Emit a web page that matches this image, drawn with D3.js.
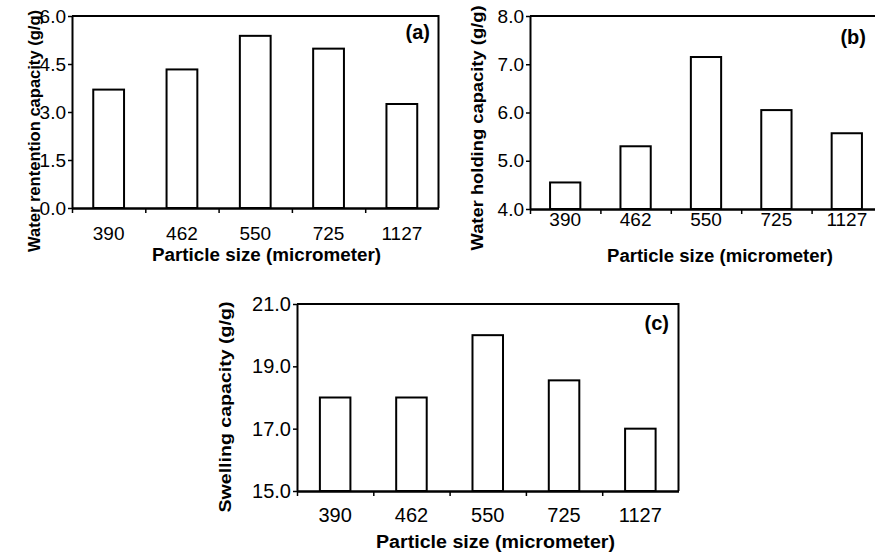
<!DOCTYPE html>
<html>
<head>
<meta charset="utf-8">
<script src="https://cdn.jsdelivr.net/npm/d3@7"></script>
<style>
  body { margin: 0; background: #fff; }
  svg { display: block; }
</style>
</head>
<body>
<div id="chart-container"></div>
<script>
// data
const particleSizes = ["390", "462", "550", "725", "1127"];
const retentionValues = [3.7, 4.33, 5.38, 4.98, 3.25];
const holdingValues = [4.55, 5.3, 7.15, 6.05, 5.57];
const swellingValues = [18.0, 18.0, 20.0, 18.55, 17.0];
const retentionTicks = [0, 1.5, 3.0, 4.5, 6.0];
const holdingTicks = [4, 5, 6, 7, 8];
const swellingTicks = [15, 17, 19, 21];

const width = 875;
const height = 554;
const font = "'Liberation Sans', Arial, sans-serif";

const svg = d3
  .select("#chart-container")
  .append("svg")
  .attr("width", width)
  .attr("height", height);

function drawPanel(p) {
  const n = p.categories.length;

  // band scale, outer padding half of inner so bars sit centred in equal cells
  const x = d3
    .scaleBand()
    .domain(p.categories)
    .range([p.left, p.right])
    .paddingInner(p.pad)
    .paddingOuter(p.pad / 2);

  const y = d3.scaleLinear().domain(p.domain).range([p.bottom, p.top]);

  const g = svg.append("g");

  // bars
  g.selectAll("rect")
    .data(p.values)
    .join("rect")
    .attr("x", (d, i) => x(p.categories[i]))
    .attr("y", (d) => y(d))
    .attr("width", x.bandwidth())
    .attr("height", (d) => y(p.domain[0]) - y(d))
    .attr("fill", "#fff")
    .attr("stroke", "#000")
    .attr("stroke-width", 2);

  // top and right side of the frame
  g.append("path")
    .attr("d", `M${p.left},${p.top}H${p.right}V${p.bottom}`)
    .attr("fill", "none")
    .attr("stroke", "#000")
    .attr("stroke-width", 2);

  // y axis
  const yAxis = g
    .append("g")
    .attr("transform", `translate(${p.left},0)`)
    .call(
      d3
        .axisLeft(y)
        .tickValues(p.ticks)
        .tickFormat(d3.format(".1f"))
        .tickSize(4)
        .tickSizeOuter(0)
        .tickPadding(2)
    );

  // tick marks on cell borders along x
  const edges = d3.scaleLinear().domain([0, n]).range([p.left, p.right]);
  g.append("g")
    .attr("transform", `translate(0,${p.bottom})`)
    .call(
      d3
        .axisBottom(edges)
        .tickValues(d3.range(0, n))
        .tickFormat("")
        .tickSize(5)
        .tickSizeOuter(0)
    );

  // category labels
  const xAxis = g
    .append("g")
    .attr("transform", `translate(0,${p.bottom})`)
    .call(d3.axisBottom(x).tickSize(0).tickSizeOuter(0).tickPadding(p.labelPad));

  [yAxis, xAxis].forEach((a) => {
    a.attr("font-family", font).attr("font-size", p.tickFont);
    a.selectAll("text").attr("fill", "#000");
  });
  g.selectAll(".domain").attr("stroke", "#000").attr("stroke-width", 2);
  g.selectAll(".tick line").attr("stroke", "#000").attr("stroke-width", 1.5);

  // x title
  g.append("text")
    .attr("x", p.xTitle[0])
    .attr("y", p.xTitle[1])
    .attr("text-anchor", "middle")
    .attr("font-family", font)
    .attr("font-weight", "bold")
    .attr("font-size", 18)
    .attr("textLength", p.xTitle[2])
    .attr("lengthAdjust", "spacingAndGlyphs")
    .text("Particle size (micrometer)");

  // y title
  g.append("text")
    .attr("transform", `translate(${p.yTitle[0]},${p.yTitle[1]}) rotate(-90)`)
    .attr("text-anchor", "middle")
    .attr("font-family", font)
    .attr("font-weight", "bold")
    .attr("font-size", 16)
    .attr("textLength", p.yTitle[2])
    .attr("lengthAdjust", "spacingAndGlyphs")
    .text(p.yLabel);

  // panel letter
  g.append("text")
    .attr("x", p.tag[0])
    .attr("y", p.tag[1])
    .attr("text-anchor", "end")
    .attr("font-family", font)
    .attr("font-weight", "bold")
    .attr("font-size", 20)
    .text(p.tagText);
}

drawPanel({
  categories: particleSizes,
  values: retentionValues,
  ticks: retentionTicks,
  domain: [0, 6],
  left: 72, right: 438.5, top: 16, bottom: 208,
  pad: 0.58,
  labelPad: 19,
  tickFont: 19,
  yLabel: "Water rentention capacity (g/g)",
  yTitle: [40, 131, 242],
  xTitle: [266.5, 261, 229],
  tag: [430, 39],
  tagText: "(a)",
});

drawPanel({
  categories: particleSizes,
  values: holdingValues,
  ticks: holdingTicks,
  domain: [4, 8],
  left: 530, right: 882, top: 16, bottom: 209,
  pad: 0.57,
  labelPad: 4,
  tickFont: 19,
  yLabel: "Water holding capacity (g/g)",
  yTitle: [483, 128, 245],
  xTitle: [720, 262, 226],
  tag: [866, 44],
  tagText: "(b)",
});

drawPanel({
  categories: particleSizes,
  values: swellingValues,
  ticks: swellingTicks,
  domain: [15, 21],
  left: 297, right: 678.5, top: 304, bottom: 491,
  pad: 0.6,
  labelPad: 17,
  tickFont: 20,
  yLabel: "Swelling capacity (g/g)",
  yTitle: [231, 407, 211],
  xTitle: [495.5, 548, 239],
  tag: [669, 330],
  tagText: "(c)",
});
</script>
</body>
</html>
